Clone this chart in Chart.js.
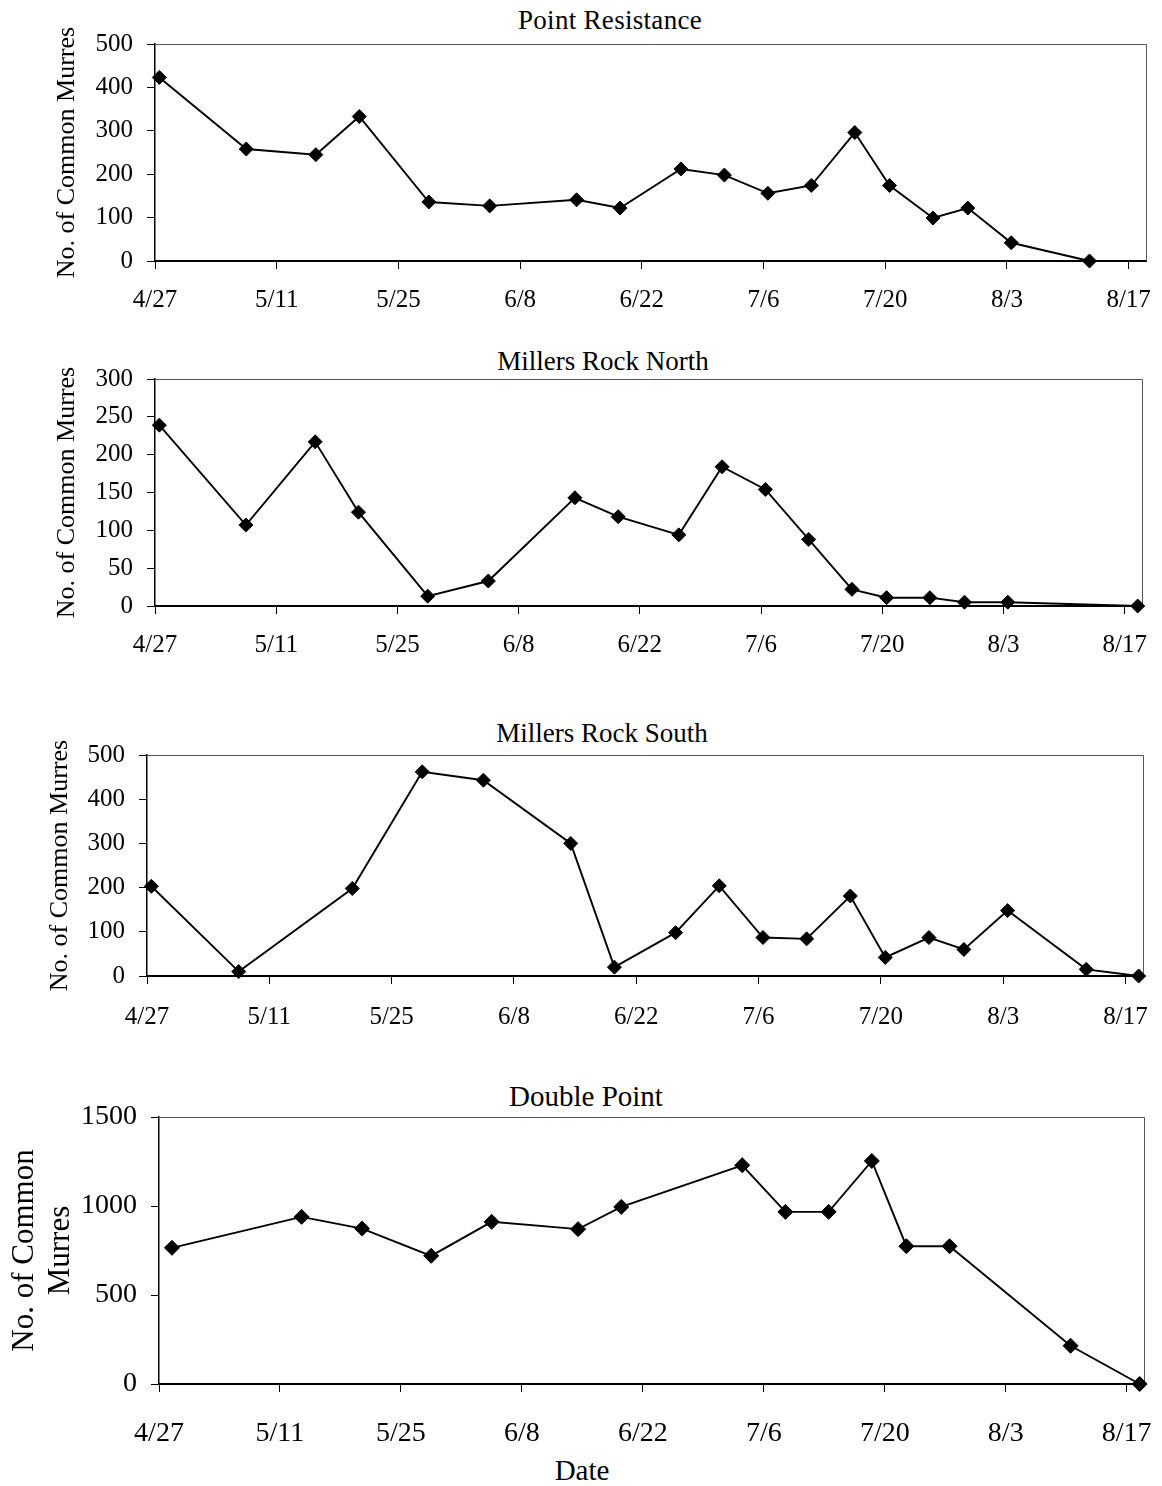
<!DOCTYPE html>
<html>
<head>
<meta charset="utf-8">
<script src="https://cdn.jsdelivr.net/npm/chart.js@4.4.0/dist/chart.umd.min.js"></script>
<style>
html,body{margin:0;padding:0;background:#fff;width:1162px;height:1486px;overflow:hidden;position:relative;font-family:"Liberation Serif","Times New Roman",serif;}
canvas{position:absolute;left:0;}
.t{position:absolute;white-space:nowrap;transform:translateX(-50%);color:#000;line-height:1;font-family:"Liberation Serif","Times New Roman",serif;}
</style>
</head>
<body>
<div class="t" style="left:610px;top:7px;font-size:27px;letter-spacing:0.3px">Point Resistance</div>
<div class="t" style="left:603px;top:348px;font-size:27px">Millers Rock North</div>
<div class="t" style="left:602px;top:720px;font-size:27px">Millers Rock South</div>
<div class="t" style="left:586px;top:1082px;font-size:29px">Double Point</div>
<div class="t" style="left:582px;top:1456px;font-size:29px">Date</div>
<canvas id="c1" width="1162" height="330" style="top:0px"></canvas>
<canvas id="c2" width="1162" height="340" style="top:340px"></canvas>
<canvas id="c3" width="1162" height="340" style="top:720px"></canvas>
<canvas id="c4" width="1162" height="406" style="top:1080px"></canvas>
<script>
// ---- data ----
const tickLabels = ['4/27','5/11','5/25','6/8','6/22','7/6','7/20','8/3','8/17'];

const prDates  = ['4/27','5/7','5/15','5/20','5/28','6/4','6/14','6/19','6/26','7/1','7/6','7/11','7/16','7/20','7/25','7/29','8/3','8/12'];
const prCounts = [423, 258, 245, 333, 136, 127, 141, 122, 212, 198, 156, 174, 296, 174, 99, 122, 42, 0];

const mnDates  = ['4/27','5/7','5/15','5/20','5/28','6/4','6/14','6/19','6/26','7/1','7/6','7/11','7/16','7/20','7/25','7/29','8/3','8/18'];
const mnCounts = [239, 107, 217, 124, 13, 33, 143, 118, 94, 184, 154, 88, 22, 11, 11, 5, 5, 0];

const msDates  = ['4/27','5/7','5/20','5/28','6/4','6/14','6/19','6/26','7/1','7/6','7/11','7/16','7/20','7/25','7/29','8/3','8/12','8/18'];
const msCounts = [203, 10, 198, 462, 443, 300, 20, 98, 204, 87, 84, 181, 42, 87, 60, 148, 15, 0];

const dpDates  = ['4/28','5/13','5/20','5/28','6/4','6/14','6/19','7/3','7/8','7/13','7/18','7/22','7/27','8/10','8/18'];
const dpCounts = [765, 939, 873, 720, 911, 870, 995, 1229, 967, 967, 1253, 774, 774, 215, 0];

const yLabelText = 'No. of Common Murres';
const yLabelTextDP = ['No. of Common', 'Murres'];

// ---- helpers ----
const monthStart = {4: 0, 5: 30, 6: 61, 7: 91, 8: 122};
function dayOf(s) {
  const p = s.split('/').map(Number);
  return monthStart[p[0]] + p[1] - 27;
}
const FONT = '"Liberation Serif", "Times New Roman", serif';

const frameLines = {
  id: 'frameLines',
  beforeDatasetsDraw(chart) {
    const a = chart.chartArea, ctx = chart.ctx;
    ctx.save();
    ctx.strokeStyle = '#555';
    ctx.lineWidth = 1;
    ctx.beginPath();
    ctx.moveTo(a.left, a.top + 0.5);
    ctx.lineTo(a.right + 0.5, a.top + 0.5);
    ctx.lineTo(a.right + 0.5, a.bottom);
    ctx.stroke();
    ctx.restore();
  }
};

function makeChart(id, o) {
  const pts = o.dates.map((d, i) => ({x: dayOf(d), y: o.counts[i]}));
  const padLeft = o.padLeft;
  return new Chart(document.getElementById(id), {
    type: 'line',
    data: {
      datasets: [{
        data: pts,
        borderColor: '#000',
        borderWidth: 1.9,
        backgroundColor: '#000',
        pointStyle: 'rectRot',
        pointRadius: o.pr,
        pointBorderWidth: 1,
        pointBorderColor: '#000',
        pointBackgroundColor: '#000',
        tension: 0,
        clip: false
      }]
    },
    plugins: [frameLines],
    options: {
      responsive: false,
      animation: false,
      devicePixelRatio: 1,
      events: [],
      layout: {padding: {top: o.area.top - o.canvasTop, left: padLeft, right: 1162 - o.area.right, bottom: 0}},
      plugins: {legend: {display: false}, tooltip: {enabled: false}, title: {display: false}},
      scales: {
        x: {
          type: 'linear',
          min: -0.5,
          max: 113.5,
          afterBuildTicks: (s) => { s.ticks = tickLabels.map(l => ({value: dayOf(l) - 0.5})); },
          afterFit: (s) => {
            s.height = o.canvasTop + o.height - o.area.bottom;
            s.paddingLeft = 0; s.paddingRight = 0;
          },
          ticks: {
            autoSkip: false, maxRotation: 0, minRotation: 0,
            padding: o.xPad, color: '#000',
            font: {family: FONT, size: o.tickSize},
            callback: (v, i) => tickLabels[i]
          },
          grid: {drawOnChartArea: false, drawTicks: true, tickLength: 8, color: '#000', lineWidth: 1},
          border: {display: true, color: '#000', width: 2}
        },
        y: {
          min: 0,
          max: o.yMax,
          afterFit: (s) => {
            s.width = o.area.left - padLeft;
            s.paddingTop = 0; s.paddingBottom = 0;
          },
          ticks: {stepSize: o.yStep, padding: 14, color: '#000', font: {family: FONT, size: o.tickSize},
                  callback: (v) => String(v)},
          grid: {drawOnChartArea: false, drawTicks: true, tickLength: 8, color: '#000', lineWidth: 1},
          border: {display: true, color: '#000', width: 1.5},
          title: {
            display: true, text: o.yTitle, color: '#000',
            font: {family: FONT, size: o.yTitleSize, lineHeight: o.yTitleLH},
            padding: {top: 4, bottom: 4}
          }
        }
      }
    }
  });
}

makeChart('c1', {dates: prDates, counts: prCounts, yMax: 500, yStep: 100, canvasTop: 0, height: 330,
  area: {top: 44, bottom: 261, left: 155, right: 1146}, padLeft: 48, tickSize: 25, xPad: 16, pr: 7,
  yTitle: yLabelText, yTitleSize: 26, yTitleLH: 1.2});
makeChart('c2', {dates: mnDates, counts: mnCounts, yMax: 300, yStep: 50, canvasTop: 340, height: 340,
  area: {top: 379, bottom: 606, left: 155, right: 1142}, padLeft: 48, tickSize: 25, xPad: 16, pr: 7,
  yTitle: yLabelText, yTitleSize: 26, yTitleLH: 1.2});
makeChart('c3', {dates: msDates, counts: msCounts, yMax: 500, yStep: 100, canvasTop: 720, height: 340,
  area: {top: 755, bottom: 976, left: 147, right: 1143}, padLeft: 41, tickSize: 25, xPad: 18, pr: 7,
  yTitle: yLabelText, yTitleSize: 26, yTitleLH: 1.2});
makeChart('c4', {dates: dpDates, counts: dpCounts, yMax: 1500, yStep: 500, canvasTop: 1080, height: 406,
  area: {top: 1117, bottom: 1384, left: 159, right: 1144}, padLeft: 3, tickSize: 28, xPad: 25, pr: 7.5,
  yTitle: yLabelTextDP, yTitleSize: 31, yTitleLH: 1.15});
</script>
</body>
</html>
